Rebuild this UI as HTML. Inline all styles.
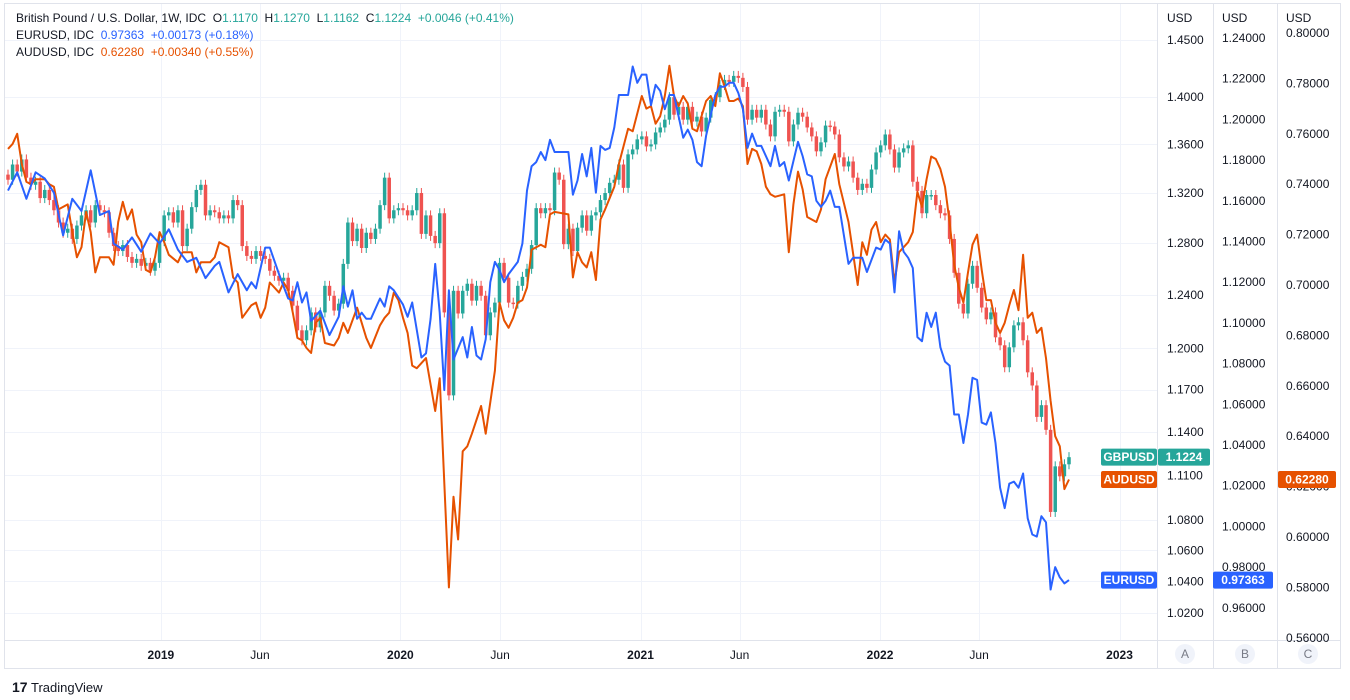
<!DOCTYPE html>
<html><head><meta charset="utf-8"><style>
html,body{margin:0;padding:0;background:#fff;}
svg{display:block;font-family:"Liberation Sans",sans-serif;}
.pre{white-space:pre;}
</style></head><body>
<svg id="chart" width="1350" height="700" viewBox="0 0 1350 700" xmlns="http://www.w3.org/2000/svg">
<defs><clipPath id="plotclip"><rect x="5" y="4" width="1152" height="636"/></clipPath></defs>
<rect x="0" y="0" width="1350" height="700" fill="#fff"/>
<rect x="4.5" y="3.5" width="1336" height="665" fill="none" stroke="#e0e3eb"/>
<g id="grid"></g>
<g id="plot" clip-path="url(#plotclip)"></g>
<line x1="1157.5" y1="4" x2="1157.5" y2="668" stroke="#e0e3eb"/>
<line x1="1213.5" y1="4" x2="1213.5" y2="668" stroke="#e0e3eb"/>
<line x1="1277.5" y1="4" x2="1277.5" y2="668" stroke="#e0e3eb"/>
<line x1="4" y1="640.5" x2="1340" y2="640.5" stroke="#e0e3eb"/>
<g id="axes" font-size="12" fill="#131722"></g>
<g font-size="12">
<text class="pre" x="16" y="22" fill="#131722">British Pound / U.S. Dollar, 1W, IDC  O<tspan fill="#26a69a">1.1170</tspan>  H<tspan fill="#26a69a">1.1270</tspan>  L<tspan fill="#26a69a">1.1162</tspan>  C<tspan fill="#26a69a">1.1224</tspan>  <tspan fill="#26a69a">+0.0046 (+0.41%)</tspan></text>
<text class="pre" x="16" y="39" fill="#131722">EURUSD, IDC  <tspan fill="#2962ff">0.97363  +0.00173 (+0.18%)</tspan></text>
<text class="pre" x="16" y="56" fill="#131722">AUDUSD, IDC  <tspan fill="#e65100">0.62280  +0.00340 (+0.55%)</tspan></text>
</g>
<g>
<text x="12" y="692" font-size="14" font-weight="bold" fill="#131722">17</text>
<text x="31" y="692" font-size="13" fill="#131722">TradingView</text>
</g>
</svg>
<script>
const NS='http://www.w3.org/2000/svg';
const gbpCloses=[1.3308,1.3433,1.3375,1.3475,1.3325,1.3267,1.3292,1.3159,1.3225,1.3143,1.3061,1.2963,1.2882,1.2914,1.2833,1.2939,1.3020,1.3061,1.2963,1.3102,1.3061,1.3045,1.2882,1.2777,1.2738,1.2785,1.2692,1.2646,1.2677,1.2623,1.2646,1.2585,1.2646,1.2816,1.3020,1.3045,1.2963,1.3061,1.2777,1.2914,1.3086,1.3225,1.3267,1.3020,1.3061,1.3045,1.2996,1.3020,1.2996,1.3143,1.3102,1.2777,1.2700,1.2677,1.2738,1.2700,1.2677,1.2585,1.2546,1.2508,1.2531,1.2431,1.2318,1.2133,1.2059,1.2133,1.2267,1.2155,1.2267,1.2469,1.2393,1.2281,1.2333,1.2638,1.2963,1.2816,1.2914,1.2762,1.2882,1.2833,1.2914,1.3102,1.3325,1.2996,1.3061,1.3078,1.3061,1.3020,1.3061,1.3200,1.2873,1.3020,1.2857,1.2800,1.3037,1.2267,1.1658,1.2431,1.2259,1.2431,1.2485,1.2356,1.2469,1.2393,1.2096,1.2267,1.2341,1.2646,1.2531,1.2341,1.2333,1.2469,1.2538,1.2600,1.2785,1.3078,1.3037,1.3078,1.3061,1.3367,1.3308,1.2792,1.2914,1.2738,1.2922,1.3020,1.2898,1.3020,1.3045,1.3143,1.3200,1.3283,1.3308,1.3433,1.3242,1.3517,1.3558,1.3642,1.3667,1.3583,1.3600,1.3700,1.3742,1.3808,1.4000,1.3850,1.3917,1.3808,1.3917,1.3792,1.3833,1.3708,1.3825,1.3975,1.4000,1.4105,1.4149,1.4132,1.4184,1.4167,1.4088,1.3808,1.3892,1.3825,1.3892,1.3767,1.3667,1.3875,1.3892,1.3875,1.3625,1.3767,1.3867,1.3833,1.3742,1.3667,1.3542,1.3617,1.3758,1.3750,1.3683,1.3492,1.3417,1.3458,1.3325,1.3225,1.3275,1.3242,1.3392,1.3533,1.3592,1.3683,1.3558,1.3408,1.3533,1.3567,1.3592,1.3292,1.3217,1.3037,1.3184,1.3184,1.3102,1.3037,1.3020,1.2833,1.2569,1.2333,1.2259,1.2485,1.2623,1.2454,1.2304,1.2215,1.2267,1.2081,1.2022,1.1861,1.2007,1.2170,1.2193,1.2059,1.1824,1.1729,1.1505,1.1588,1.1414,1.0853,1.1161,1.1093,1.1175,1.1224];
const gbpFirstOpen=1.3350;
const eurWeeks=[0,2,4,6,8,10,12,14,16,18,20,22,23,25,27,29,31,33,35,37,39,41,43,45,46,48,50,52,53,54,56,57,59,61,62,63,64,65,66,68,70,72,73,74,75,76,77,78,79,81,82,83,84,86,87,88,90,91,92,93,94,95,96,97,99,100,101,102,103,104,105,106,107,108,109,111,112,113,114,115,116,117,118,119,122,123,124,125,126,127,128,129,130,131,132,133,135,136,137,138,139,140,141,142,143,144,145,147,148,149,150,151,152,153,154,155,156,157,158,159,160,161,162,163,164,166,167,168,169,170,172,173,174,175,176,177,178,179,180,181,183,184,186,187,189,190,191,192,193,194,195,196,197,198,199,200,201,202,203,204,205,206,207,208,209,210,211,212,213,214,215,216,217,218,219,220,221,222,223,224,225,226,227,228,229,230,231];
const eurValues=[1.165,1.174,1.161,1.174,1.171,1.164,1.143,1.161,1.155,1.175,1.153,1.155,1.139,1.136,1.142,1.135,1.144,1.139,1.146,1.136,1.130,1.132,1.122,1.128,1.130,1.115,1.124,1.116,1.120,1.117,1.137,1.137,1.124,1.112,1.111,1.120,1.110,1.115,1.101,1.106,1.094,1.103,1.118,1.108,1.116,1.102,1.105,1.102,1.102,1.112,1.108,1.118,1.116,1.109,1.103,1.110,1.083,1.085,1.102,1.129,1.105,1.067,1.116,1.082,1.093,1.083,1.098,1.084,1.082,1.092,1.120,1.130,1.126,1.120,1.124,1.130,1.139,1.165,1.177,1.179,1.184,1.180,1.190,1.184,1.184,1.163,1.170,1.183,1.172,1.186,1.164,1.187,1.185,1.186,1.196,1.212,1.212,1.226,1.218,1.222,1.222,1.207,1.217,1.214,1.205,1.212,1.212,1.191,1.195,1.190,1.179,1.177,1.192,1.202,1.212,1.216,1.216,1.218,1.218,1.213,1.205,1.186,1.193,1.187,1.187,1.177,1.187,1.177,1.179,1.170,1.189,1.182,1.173,1.172,1.160,1.157,1.160,1.165,1.157,1.157,1.129,1.132,1.132,1.125,1.137,1.136,1.141,1.139,1.115,1.145,1.135,1.132,1.127,1.093,1.091,1.105,1.098,1.105,1.088,1.081,1.079,1.055,1.055,1.041,1.055,1.073,1.072,1.051,1.050,1.056,1.041,1.019,1.009,1.021,1.022,1.019,1.026,1.004,0.996,0.995,1.005,1.002,0.969,0.980,0.975,0.972,0.97363];
const audWeeks=[0,1,2,3,4,5,6,8,9,10,11,13,14,15,16,17,18,19,20,22,23,24,25,26,27,28,29,30,31,32,33,34,35,37,38,40,41,42,44,45,46,48,49,50,51,53,54,55,56,57,59,60,61,62,63,64,65,66,67,68,69,71,72,73,74,76,77,78,79,81,82,83,84,85,86,87,88,89,91,93,94,96,97,98,99,100,101,103,104,106,107,108,109,110,111,112,113,114,116,117,118,119,122,123,124,125,126,127,128,129,130,132,133,135,136,138,139,140,141,142,143,144,145,146,147,148,149,150,152,153,154,155,156,157,158,159,160,161,162,163,164,165,166,167,169,170,171,172,173,174,176,177,178,180,181,183,185,186,187,188,189,190,191,192,193,194,196,197,198,199,200,201,202,203,204,205,206,207,208,209,210,211,212,213,214,215,216,217,218,219,220,221,222,223,224,225,226,227,228,229,230,231];
const audValues=[0.754,0.756,0.760,0.748,0.741,0.740,0.742,0.742,0.740,0.739,0.730,0.732,0.721,0.711,0.715,0.729,0.721,0.705,0.711,0.711,0.708,0.725,0.733,0.726,0.730,0.720,0.717,0.706,0.705,0.711,0.721,0.717,0.712,0.709,0.713,0.713,0.705,0.709,0.709,0.711,0.717,0.715,0.703,0.701,0.687,0.692,0.693,0.687,0.691,0.701,0.697,0.701,0.698,0.689,0.679,0.678,0.675,0.673,0.685,0.687,0.677,0.676,0.679,0.685,0.681,0.691,0.685,0.679,0.675,0.684,0.687,0.689,0.697,0.694,0.687,0.681,0.668,0.667,0.671,0.650,0.663,0.580,0.616,0.599,0.634,0.636,0.641,0.652,0.641,0.666,0.693,0.686,0.683,0.687,0.693,0.694,0.699,0.714,0.716,0.715,0.728,0.729,0.728,0.703,0.713,0.709,0.707,0.713,0.702,0.726,0.730,0.739,0.748,0.762,0.761,0.775,0.770,0.771,0.764,0.767,0.775,0.787,0.775,0.771,0.775,0.772,0.762,0.761,0.773,0.775,0.771,0.784,0.779,0.773,0.773,0.774,0.771,0.748,0.754,0.753,0.748,0.739,0.736,0.735,0.736,0.713,0.732,0.745,0.738,0.727,0.725,0.730,0.742,0.752,0.740,0.725,0.700,0.717,0.712,0.722,0.725,0.717,0.720,0.718,0.701,0.713,0.717,0.721,0.737,0.731,0.742,0.751,0.750,0.746,0.739,0.725,0.708,0.699,0.693,0.705,0.716,0.720,0.706,0.694,0.694,0.685,0.681,0.685,0.692,0.698,0.690,0.712,0.687,0.689,0.681,0.683,0.671,0.654,0.640,0.636,0.619,0.6228];
const axisATicks=[1.45,1.40,1.36,1.32,1.28,1.24,1.20,1.17,1.14,1.11,1.08,1.06,1.04,1.02];
const axisBTicks=[1.24,1.22,1.20,1.18,1.16,1.14,1.12,1.10,1.08,1.06,1.04,1.02,1.00,0.98,0.96];
const axisCTicks=[0.80,0.78,0.76,0.74,0.72,0.70,0.68,0.66,0.64,0.62,0.60,0.58,0.56];
const timeLabels=['2019','Jun','2020','Jun','2021','Jun','2022','Jun','2023'];
const timeDates=['2019-01-01','2019-06-01','2020-01-01','2020-06-01','2021-01-01','2021-06-01','2022-01-01','2022-06-01','2023-01-01'];
const startDate='2018-05-13';

const lastW=231, x0=8, x1=1069;
function xW(w){return x0+w*(x1-x0)/lastW;}
function dateToW(d){return (Date.parse(d)-Date.parse(startDate))/(7*864e5);}
function yA(v){return 40+(Math.log(1.45)-Math.log(v))*1629;}
function yB(v){return 38+(1.24-v)*2035;}
function yC(v){return 33+(0.80-v)*2520;}
function mk(tag,attrs,parent){const e=document.createElementNS(NS,tag);for(const k in attrs)e.setAttribute(k,attrs[k]);parent.appendChild(e);return e;}

const grid=document.getElementById('grid'), plot=document.getElementById('plot'), axes=document.getElementById('axes');
axisATicks.forEach(v=>{const y=Math.round(yA(v))+0.5;
  const l=mk('line',{x1:5,x2:1157,y1:y,y2:y,stroke:'#f0f3fa'},grid);
  
  });
timeDates.forEach(d=>{const x=Math.round(xW(dateToW(d)))+0.5;
  const l=mk('line',{x1:x,x2:x,y1:4,y2:640,stroke:'#f0f3fa'},grid);
  
  });

const wick=5;
gbpCloses.forEach((c,i)=>{
  const o=i===0?gbpFirstOpen:gbpCloses[i-1];
  const col=c>=o?'#26a69a':'#ef5350';
  const x=xW(i);const yo=yA(o),yc=yA(c);
  const top=Math.min(yo,yc),bot=Math.max(yo,yc);
  const w=mk('line',{x1:x,x2:x,y1:top-wick,y2:bot+wick,stroke:col,'stroke-width':1},plot);
  
  
  const b=mk('rect',{x:x-1.75,y:top,width:3.5,height:Math.max(1.5,bot-top),fill:col},plot);
  
  
});
function line(weeks,vals,yf,col,name){
  const n=Math.min(weeks.length,vals.length);let d='';
  for(let i=0;i<n;i++)d+=(i?'L':'M')+xW(weeks[i]).toFixed(1)+','+yf(vals[i]).toFixed(1);
  const p=mk('path',{d:d,fill:'none',stroke:col,'stroke-width':2,'stroke-linejoin':'round'},plot);
  
  
}
line(audWeeks,audValues,yC,'#e65100','audusd-line');
line(eurWeeks,eurValues,yB,'#2962ff','eurusd-line');

function txt(x,y,s,attrs,name,inter){const t=mk('text',Object.assign({x:x,y:y},attrs||{}),axes);t.textContent=s;
  
  return t;}
txt(1167,22,'USD',{},'axis-a-unit');txt(1222,22,'USD',{},'axis-b-unit');txt(1286,22,'USD',{},'axis-c-unit');
axisATicks.forEach(v=>txt(1167,yA(v)+4,v.toFixed(4),{},'axis-a-tick'));
axisBTicks.forEach(v=>txt(1222,yB(v)+4,v.toFixed(5),{},'axis-b-tick'));
axisCTicks.forEach(v=>txt(1286,yC(v)+4,v.toFixed(5),{},'axis-c-tick'));
timeLabels.forEach((s,i)=>{const yr=/^\d/.test(s);
  txt(xW(dateToW(timeDates[i])),659,s,{'text-anchor':'middle','font-weight':yr?'bold':'normal'},'time-tick');});
['A','B','C'].forEach((s,i)=>{const cx=[1185,1245,1308][i];
  const c=mk('circle',{cx:cx,cy:654,r:10,fill:'#f0f3fa'},axes);
  
  
  txt(cx,658,s,{'text-anchor':'middle',fill:'#787b86'},'scale-button-label',true);});

function tag(x,y,w,label,col,name){const r=mk('rect',{x:x,y:y,width:w,height:17,rx:2,fill:col},axes);
  
  
  txt(x+w/2,y+12.5,label,{'text-anchor':'middle',fill:'#fff','font-weight':'bold','font-size':'12'},name+'-text');}
const gLast=gbpCloses[gbpCloses.length-1],eLast=eurValues[eurValues.length-1],aLast=audValues[audValues.length-1];
tag(1101,yA(gLast)-8.5,56,'GBPUSD','#26a69a','gbpusd-series-tag');
tag(1158,yA(gLast)-8.5,52,gLast.toFixed(4),'#26a69a','gbpusd-price-tag');
tag(1101,yC(aLast)-8.5,56,'AUDUSD','#e65100','audusd-series-tag');
tag(1278,yC(aLast)-8.5,58,aLast.toFixed(5),'#e65100','audusd-price-tag');
tag(1101,yB(eLast)-8.5,56,'EURUSD','#2962ff','eurusd-series-tag');
tag(1213,yB(eLast)-8.5,60,eLast.toFixed(5),'#2962ff','eurusd-price-tag');
</script>
</body></html>
